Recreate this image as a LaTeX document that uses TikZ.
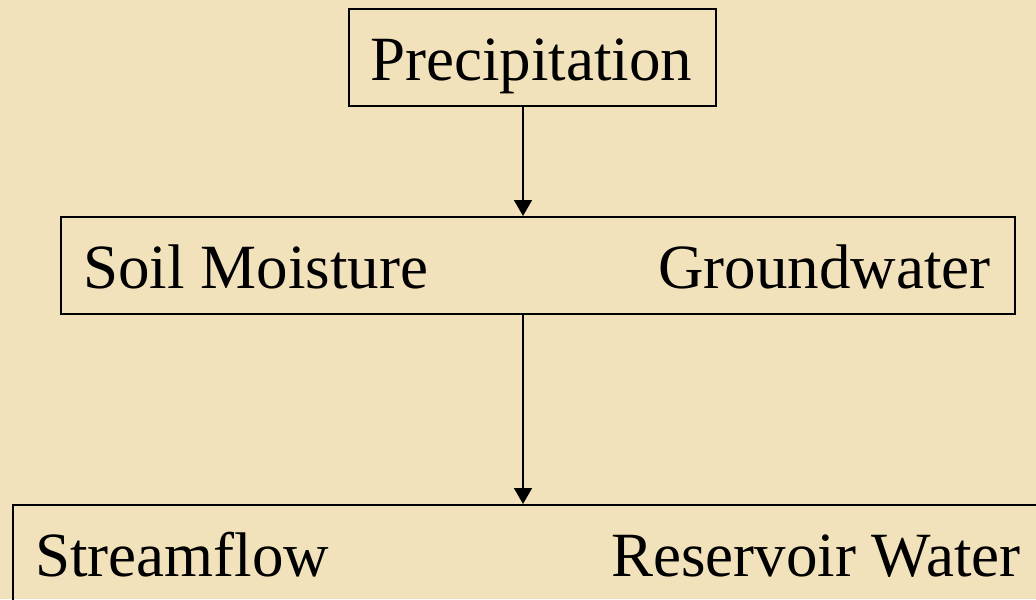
\documentclass[tikz,border=0pt]{standalone}
\usepackage{fontspec}
\setmainfont{Liberation Serif}
\definecolor{parchment}{RGB}{242,226,188}
\usetikzlibrary{arrows.meta, positioning}

\begin{document}
\begin{tikzpicture}[x=0.025cm, y=-0.025cm,
  box/.style={draw, line width=1.4pt, inner sep=0pt, anchor=north west},
  term/.style={font=\fontsize{44.8}{50}\selectfont, inner sep=0pt},
  arrowline/.style={-{Triangle[length=0.4cm, width=0.45cm]}, line width=1.1pt}]
  % background sheet
  \fill[parchment] (0,0) rectangle (1036,599);
  \useasboundingbox (0,0) rectangle (1036,599);

  % Precipitation
  \node[box, minimum width=9.175cm, minimum height=2.425cm] (precip) at (348,8) {};
  \node[term, anchor=base west] (precipText) at (370,80) {Precipitation};

  % Soil moisture / groundwater
  \node[box, minimum width=23.85cm, minimum height=2.425cm] (storage) at (60,216) {};
  \node[term, anchor=base west] (soil) at (83,288) {Soil Moisture};
  \node[term, anchor=base east] (ground) at (991,288) {Groundwater};

  % Streamflow / reservoir water (runs off the page)
  \node[box, minimum width=28cm, minimum height=5cm] (surface) at (12,504) {};
  \node[term, anchor=base west] (stream) at (35,576) {Streamflow};
  \node[term, anchor=base west] (reservoir) at (611,576) {Reservoir Water};

  % flow arrows
  \coordinate (axis) at (523,0);
  \draw[arrowline] (precip.south -| axis) -- (storage.north -| axis);
  \draw[arrowline] (storage.south -| axis) -- (surface.north -| axis);
\end{tikzpicture}
\end{document}
